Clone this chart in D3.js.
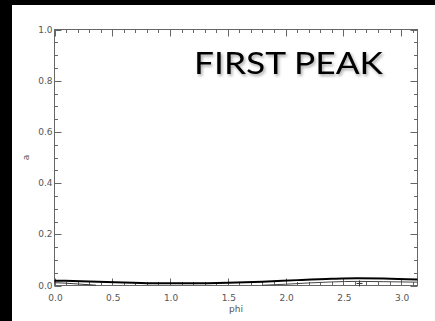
<!DOCTYPE html>
<html>
<head>
<meta charset="utf-8">
<script src="https://cdn.jsdelivr.net/npm/d3@7"></script>
<style>
  html, body { margin: 0; padding: 0; background: #000; }
  svg { display: block; }
</style>
</head>
<body>
<svg id="chart" width="435" height="321"></svg>
<script>
// Amplitude a versus phase phi for the first peak
const phiMain = [0.0, 0.3, 0.6, 0.9, 1.2, 1.5, 1.8, 2.1, 2.4, 2.62, 2.85, 3.14159];
const aMain   = [0.019, 0.016, 0.012, 0.009, 0.009, 0.011, 0.015, 0.021, 0.026, 0.028, 0.027, 0.023];

const phiLow1 = [0.0, 0.1, 0.2, 0.3, 0.36];
const aLow1   = [0.011, 0.009, 0.006, 0.003, 0.001];

const phiLow2 = [1.8, 2.0, 2.2, 2.4, 2.62, 2.85, 3.14159];
const aLow2   = [0.001, 0.005, 0.010, 0.014, 0.016, 0.015, 0.013];

const markPhi = [2.64];
const markA   = [0.008];

const xTicks = [0.0, 0.5, 1.0, 1.5, 2.0, 2.5, 3.0];
const yTicks = [0.0, 0.2, 0.4, 0.6, 0.8, 1.0];

(function draw() {
  const svg = d3.select("#chart");

  // white page area on black
  svg.append("rect").attr("x", 12).attr("y", 5).attr("width", 423).attr("height", 316).attr("fill", "#fff");

  const pLeft = 54.5, pRight = 417.5, pTop = 29.5, pBottom = 285.5;
  const x = d3.scaleLinear().domain([0, Math.PI]).range([pLeft, pRight]);
  const y = d3.scaleLinear().domain([0, 1]).range([pBottom, pTop]);

  const axisColor = "#666";
  const g = svg.append("g");

  // frame
  g.append("rect").attr("x", pLeft).attr("y", pTop).attr("width", pRight - pLeft).attr("height", pBottom - pTop)
    .attr("fill", "none").attr("stroke", axisColor).attr("stroke-width", 1);

  // ticks, pointing inward on all four sides
  const xMinor = d3.range(0, Math.PI + 1e-9, 0.1).filter(v => Math.abs(v / 0.5 - Math.round(v / 0.5)) > 1e-6);
  const yMinor = d3.range(0, 1.0001, 0.05).filter(v => Math.abs(v / 0.2 - Math.round(v / 0.2)) > 1e-6);
  const majLen = 7, minLen = 3.5;

  function xTickLines(vals, len) {
    vals.forEach(v => {
      const px = Math.round(x(v)) + 0.5;
      g.append("line").attr("x1", px).attr("x2", px).attr("y1", pBottom).attr("y2", pBottom - len).attr("stroke", axisColor);
      g.append("line").attr("x1", px).attr("x2", px).attr("y1", pTop).attr("y2", pTop + len).attr("stroke", axisColor);
    });
  }
  function yTickLines(vals, len) {
    vals.forEach(v => {
      const py = Math.round(y(v)) + 0.5;
      g.append("line").attr("x1", pLeft).attr("x2", pLeft + len).attr("y1", py).attr("y2", py).attr("stroke", axisColor);
      g.append("line").attr("x1", pRight).attr("x2", pRight - len).attr("y1", py).attr("y2", py).attr("stroke", axisColor);
    });
  }
  xTickLines(xTicks, majLen);
  xTickLines(xMinor, minLen);
  yTickLines(yTicks, majLen);
  yTickLines(yMinor, minLen);

  const labelFont = "'DejaVu Sans', sans-serif";
  g.selectAll(".xl").data(xTicks).enter().append("text")
    .attr("x", d => x(d) + 1).attr("y", pBottom + 15)
    .attr("text-anchor", "middle").attr("font-family", labelFont).attr("font-size", 9).attr("fill", "#555")
    .text(d => d.toFixed(1));
  g.selectAll(".yl").data(yTicks).enter().append("text")
    .attr("x", pLeft - 2).attr("y", d => y(d) + 3)
    .attr("text-anchor", "end").attr("font-family", labelFont).attr("font-size", 9).attr("fill", "#555")
    .text(d => d.toFixed(1));

  g.append("text").attr("x", (pLeft + pRight) / 2).attr("y", 312).attr("text-anchor", "middle")
    .attr("font-family", labelFont).attr("font-size", 9).attr("fill", "#555").text("phi");
  g.append("text").attr("transform", `translate(29,${(pTop + pBottom) / 2}) rotate(-90)`).attr("text-anchor", "middle")
    .attr("font-family", labelFont).attr("font-size", 9).attr("fill", "#555").text("a");

  // curves
  const line = d3.line().curve(d3.curveMonotoneX);
  const pts = (xs, ys) => xs.map((v, i) => [x(v), y(ys[i])]);

  g.append("path").attr("d", line(pts(phiLow1, aLow1))).attr("fill", "none").attr("stroke", "#333").attr("stroke-width", 1);
  g.append("path").attr("d", line(pts(phiLow2, aLow2))).attr("fill", "none").attr("stroke", "#444").attr("stroke-width", 1);
  g.append("path").attr("d", line(pts(phiMain, aMain))).attr("fill", "none").attr("stroke", "#000").attr("stroke-width", 2);

  g.selectAll(".mk").data(markPhi).enter().append("path")
    .attr("d", (d, i) => { const cx = x(d), cy = y(markA[i]); return `M${cx - 3},${cy}H${cx + 3}M${cx},${cy - 3}V${cy + 3}`; })
    .attr("stroke", "#333").attr("stroke-width", 1);

  // heading with soft shadow
  const defs = svg.append("defs");
  const f = defs.append("filter").attr("id", "shadow").attr("x", "-10%").attr("y", "-20%").attr("width", "130%").attr("height", "160%");
  f.append("feDropShadow").attr("dx", 1.5).attr("dy", 2).attr("stdDeviation", 1.5).attr("flood-color", "#000").attr("flood-opacity", 0.35);

  svg.append("text").attr("x", 194).attr("y", 74)
    .attr("font-family", "Lato, 'Open Sans', sans-serif").attr("font-size", 30).attr("fill", "#000")
    .attr("textLength", 189).attr("lengthAdjust", "spacingAndGlyphs")
    .attr("filter", "url(#shadow)")
    .text("FIRST PEAK");
})();
</script>
</body>
</html>
